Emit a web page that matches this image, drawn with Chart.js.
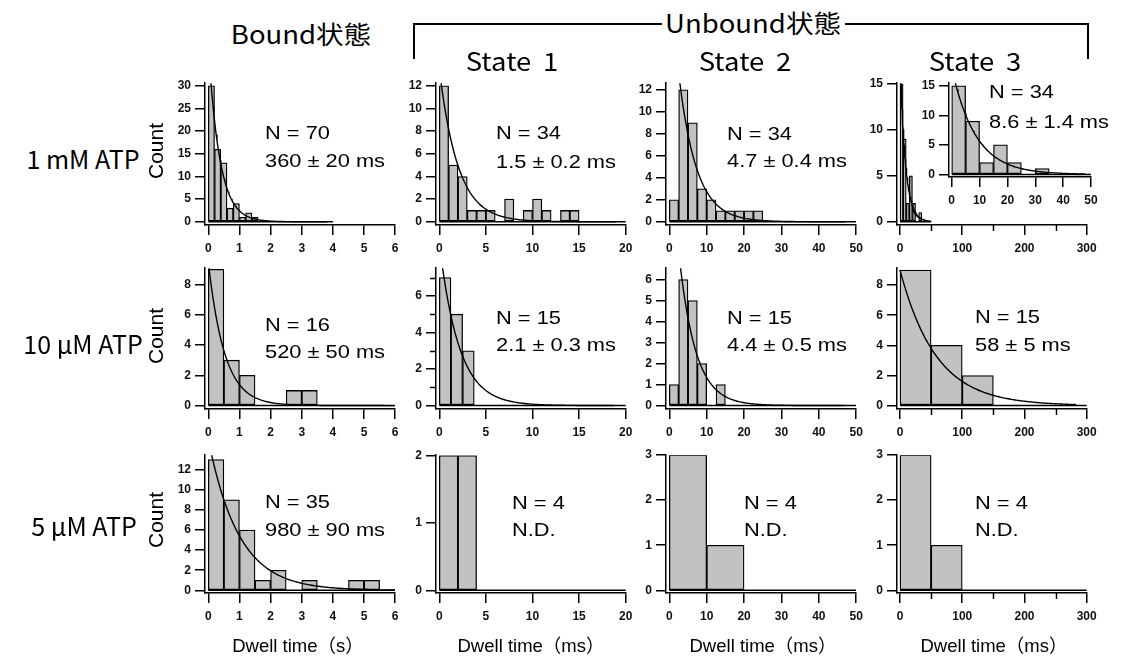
<!DOCTYPE html>
<html>
<head>
<meta charset="utf-8">
<script src="https://cdn.jsdelivr.net/npm/chart.js@4.4.0/dist/chart.umd.min.js"></script>
<style>
    body { margin: 0; background: #fff; width: 1121px; height: 662px; position: relative; overflow: hidden; }
    canvas { position: absolute; }
    .txt { position: absolute; white-space: nowrap; color: #000; line-height: 1; }
    .ann { font-family: 'Liberation Sans', Arial, sans-serif; font-size: 18.5px; transform: scaleX(1.18); transform-origin: left top; }
    .head { font-family: 'Noto Sans CJK JP', 'Noto Sans', sans-serif; transform: translate(-50%, -50%); }
    .wide { transform: translate(-50%, -50%) scaleX(1.1); }
    .axt { font-family: 'Liberation Sans', Arial, 'Noto Sans CJK JP', sans-serif; font-size: 18.5px; transform: translate(-50%, -50%); }
    .cnt { font-family: 'Liberation Sans', Arial, sans-serif; font-size: 21px; transform: translate(-50%, -50%) rotate(-90deg); }
    .ln { position: absolute; background: #000; }
</style>
</head>
<body>
<script>
// ---- histogram counts (rows: 1 mM, 10 uM, 5 uM ATP; columns: Bound, State 1, State 2, State 3) ----
const bound1mMCounts   = [30, 16, 13, 3, 4, 1, 2, 1, 0, 0, 0, 0, 0, 0, 0, 0, 0, 0, 0, 0];
const state1_1mMCounts = [12, 5, 4, 1, 1, 1, 0, 2, 0, 1, 2, 1, 0, 1, 1, 0, 0, 0, 0, 0];
const state2_1mMCounts = [2, 12, 9, 3, 2, 1, 1, 1, 1, 1, 0, 0, 0, 0, 0, 0, 0, 0, 0, 0];
const state3_1mMCounts = [15, 9, 2, 5, 2, 0, 1, 0, 0, 0];

const bound10uMCounts   = [9, 3, 2, 0, 0, 1, 1, 0, 0, 0, 0, 0];
const state1_10uMCounts = [7, 5, 3, 0, 0, 0, 0, 0, 0, 0, 0, 0, 0, 0, 0, 0];
const state2_10uMCounts = [1, 6, 5, 2, 0, 1, 0, 0, 0, 0, 0, 0, 0, 0, 0, 0, 0, 0, 0, 0];
const state3_10uMCounts = [9, 4, 2, 0, 0, 0];

const bound5uMCounts   = [13, 9, 6, 1, 2, 0, 1, 0, 0, 1, 1, 0];
const state1_5uMCounts = [2, 2, 0, 0, 0, 0, 0, 0, 0, 0];
const state2_5uMCounts = [3, 1, 0, 0, 0];
const state3_5uMCounts = [3, 1, 0, 0, 0, 0];

const panelCounts = [
    bound1mMCounts, state1_1mMCounts, state2_1mMCounts, state3_1mMCounts,
    bound10uMCounts, state1_10uMCounts, state2_10uMCounts, state3_10uMCounts,
    bound5uMCounts, state1_5uMCounts, state2_5uMCounts, state3_5uMCounts
];
const binWidths = [0.2, 1, 2.5, 5, 0.5, 1.25, 2.5, 50, 0.5, 2, 10, 50];

// single exponential fit curves as drawn: amplitude, decay constant, drawn range (null = no fit)
const fitAmp   = [38.9, 13.5, 23, 18, 9.5, 8.9, 13, 9, 15, null, null, null];
const fitTau   = [0.36, 2.0, 4.7, 8.6, 0.52, 2.1, 4.4, 58, 0.98, null, null, null];
const fitStart = [0, 0, 2.5, 0, 0, 0, 2.4, 0, 0, null, null, null];
const fitEnd   = [3.8, 19, 47, 50, 6, 18.7, 46.6, 283, 6, null, null, null];

const nLabels   = ['N = 70', 'N = 34', 'N = 34', 'N = 34', 'N = 16', 'N = 15', 'N = 15', 'N = 15', 'N = 35', 'N = 4', 'N = 4', 'N = 4'];
const tauLabels = ['360 ± 20 ms', '1.5 ± 0.2 ms', '4.7 ± 0.4 ms', '8.6 ± 1.4 ms', '520 ± 50 ms', '2.1 ± 0.3 ms', '4.4 ± 0.5 ms', '58 ± 5 ms', '980 ± 90 ms', 'N.D.', 'N.D.', 'N.D.'];

// ---- tick labels ----
const xTicksBound  = [0, 1, 2, 3, 4, 5, 6];
const xTicksState1 = [0, 5, 10, 15, 20];
const xTicksState2 = [0, 10, 20, 30, 40, 50];
const xTicksState3 = [0, 100, 200, 300];
const xMinorState3 = [50, 150, 250];
const yTicksList = [
    [0, 5, 10, 15, 20, 25, 30], [0, 2, 4, 6, 8, 10, 12], [0, 2, 4, 6, 8, 10, 12], [0, 5, 10, 15],
    [0, 2, 4, 6, 8], [0, 2, 4, 6], [0, 1, 2, 3, 4, 5, 6], [0, 2, 4, 6, 8],
    [0, 2, 4, 6, 8, 10, 12], [0, 1, 2], [0, 1, 2, 3], [0, 1, 2, 3]
];
const yMinorList = [[], [], [], [], [], [1, 3, 5, 7], [], [], [], [], [], []];
const insetXTicks = [0, 10, 20, 30, 40, 50];
const insetYTicks = [0, 5, 10, 15];

// ---- page geometry (pixels) ----
const OFF = 3, AXW = 40, AXH = 34, PADT = 8, PADR = 16;
const colX = [ // pixel of 0, pixel of last tick, last tick value
    { x0: 208.3, xEndPx: 395.2, xEnd: 6 },
    { x0: 439.3, xEndPx: 625.7, xEnd: 20 },
    { x0: 669.3, xEndPx: 856.2, xEnd: 50 },
    { x0: 900.0, xEndPx: 1086.7, xEnd: 300 }
];
const rowY0 = [221.7, 405.5, 590.3];
const rowTop = [80, 265, 452];
const yTopPx = [82.7, 82.7, 86.7, 80.7, 281.7, 293.3, 276.7, 282.3, 466.7, 452.3, 451.7, 451.7];

const minorTicks = {
    id: 'minorTicks',
    afterDraw(chart, args, opts) {
        const ctx = chart.ctx, xs = chart.scales.x, ys = chart.scales.y;
        ctx.save();
        ctx.strokeStyle = '#000';
        ctx.lineWidth = 1.5;
        (opts.x || []).forEach(v => {
            const px = Math.round(xs.getPixelForValue(v)) + 0.5;
            ctx.beginPath(); ctx.moveTo(px, xs.top); ctx.lineTo(px, xs.top + 6); ctx.stroke();
        });
        (opts.y || []).forEach(v => {
            const py = Math.round(ys.getPixelForValue(v)) + 0.5;
            ctx.beginPath(); ctx.moveTo(ys.right, py); ctx.lineTo(ys.right - 6, py); ctx.stroke();
        });
        ctx.restore();
    }
};

const tickFont = { family: 'Liberation Sans', size: 12, weight: 'bold' };

function makePanel(p) {
    const left = Math.round(p.x0 - OFF), right = Math.round(p.xEndPx);
    const top = Math.round(p.areaTop), bottom = Math.round(p.y0 + OFF);
    const xUnit = (p.xEndPx - p.x0) / p.xEnd;
    const yUnit = (p.y0 - p.yTopPx) / p.yTop;
    const cw = right - left + AXW + PADR, ch = bottom - top + PADT + AXH;

    const cv = document.createElement('canvas');
    cv.width = cw; cv.height = ch;
    cv.style.left = (left - AXW) + 'px';
    cv.style.top = (top - PADT) + 'px';
    cv.style.width = cw + 'px';
    cv.style.height = ch + 'px';
    if (p.z) cv.style.zIndex = p.z;
    document.body.appendChild(cv);

    const datasets = [];
    if (p.tau) {
        const pts = [];
        for (let i = 0; i <= 150; i++) {
            const t = p.fitFrom + (p.fitTo - p.fitFrom) * i / 150;
            pts.push({ x: t, y: p.amp * Math.exp(-t / p.tau) });
        }
        datasets.push({ type: 'line', data: pts, borderColor: '#000', borderWidth: 1.4, pointRadius: 0, fill: false });
    }
    datasets.push({
        type: 'line', data: [{ x: 0, y: 0 }, { x: p.counts.length * p.bw, y: 0 }],
        borderColor: '#000', borderWidth: 1.5, pointRadius: 0, fill: false
    });
    datasets.push({
        type: 'bar',
        data: p.counts.map((c, i) => ({ x: (i + 0.5) * p.bw, y: c })),
        backgroundColor: '#c2c2c2', borderColor: '#000', borderWidth: 1.3,
        borderSkipped: false, barPercentage: 1, categoryPercentage: 1
    });

    new Chart(cv, {
        type: 'bar',
        data: { datasets: datasets },
        plugins: [minorTicks],
        options: {
            responsive: false,
            animation: false,
            events: [],
            layout: { padding: { top: PADT, right: PADR, left: 0, bottom: 0 } },
            plugins: {
                legend: { display: false },
                tooltip: { enabled: false },
                minorTicks: { x: p.xMinor || [], y: p.yMinor || [] }
            },
            scales: {
                x: {
                    type: 'linear', offset: false,
                    min: (left - p.x0) / xUnit, max: (right - p.x0) / xUnit,
                    afterBuildTicks: s => { s.ticks = p.xTicks.map(v => ({ value: v })); },
                    afterFit: s => { s.height = AXH; },
                    border: { display: true, color: '#000', width: 1.5 },
                    grid: { offset: false, drawOnChartArea: false, drawTicks: true, tickLength: 10, color: '#000', lineWidth: 1.5 },
                    ticks: { color: '#111', font: tickFont, padding: 6, maxRotation: 0, autoSkip: false }
                },
                y: {
                    type: 'linear',
                    min: (p.y0 - bottom) / yUnit, max: (p.y0 - top) / yUnit,
                    afterBuildTicks: s => { s.ticks = p.yTicks.map(v => ({ value: v })); },
                    afterFit: s => { s.width = AXW; },
                    border: { display: true, color: '#000', width: 1.5 },
                    grid: { drawOnChartArea: false, drawTicks: true, tickLength: 10, color: '#000', lineWidth: 1.5 },
                    ticks: { color: '#111', font: tickFont, padding: 4, autoSkip: false }
                }
            }
        }
    });
}

for (let k = 0; k < 12; k++) {
    const r = Math.floor(k / 4), c = k % 4;
    makePanel({
        x0: colX[c].x0, xEndPx: colX[c].xEndPx, xEnd: colX[c].xEnd,
        y0: rowY0[r], areaTop: rowTop[r], yTopPx: yTopPx[k], yTop: yTicksList[k][yTicksList[k].length - 1],
        xTicks: [xTicksBound, xTicksState1, xTicksState2, xTicksState3][c],
        xMinor: c === 3 ? xMinorState3 : [],
        yTicks: yTicksList[k], yMinor: yMinorList[k],
        counts: panelCounts[k], bw: binWidths[k],
        amp: fitAmp[k], tau: fitTau[k], fitFrom: fitStart[k], fitTo: fitEnd[k]
    });
}

// inset of the 1 mM / State 3 histogram (0-50 ms)
makePanel({
    x0: 951.7, xEndPx: 1091, xEnd: 50,
    y0: 174.3, areaTop: 80, yTopPx: 82.7, yTop: 15,
    xTicks: insetXTicks, xMinor: [], yTicks: insetYTicks, yMinor: [],
    counts: state3_1mMCounts, bw: binWidths[3],
    amp: fitAmp[3], tau: fitTau[3], fitFrom: 0, fitTo: 48, z: 2
});

// ---- text ----
function addText(cls, text, x, y, size, extra) {
    const d = document.createElement('div');
    d.className = 'txt ' + cls;
    d.textContent = text;
    d.style.left = x + 'px';
    d.style.top = y + 'px';
    if (size) d.style.fontSize = size + 'px';
    if (extra) Object.assign(d.style, extra);
    document.body.appendChild(d);
}

const annLeft = [265, 495.7, 726.7, 989.3, 265, 495.7, 726.7, 975, 265, 511.7, 744, 975];
const annBase1 = [140, 140, 141, 98.3, 331.7, 325, 325, 324, 509, 510, 510, 510];
const annBase2 = [167.3, 168.3, 168, 128.3, 358.3, 351.7, 351.7, 351.7, 536.7, 536.7, 536.7, 536.7];
for (let k = 0; k < 12; k++) {
    addText('ann', nLabels[k], annLeft[k], annBase1[k] - 15.7);
    addText('ann', tauLabels[k], annLeft[k], annBase2[k] - 15.7);
}

['1 mM ATP', '10 μM ATP', '5 μM ATP'].forEach((t, i) => {
    addText('head', t, [83, 83, 84][i], [158, 343, 525][i], 25);
});
[150.5, 336, 520].forEach(y => addText('cnt', 'Count', 154.5, y));
addText('axt', 'Dwell time（s）', 298, 646);
addText('axt', 'Dwell time（ms）', 531, 646);
addText('axt', 'Dwell time（ms）', 763, 646);
addText('axt', 'Dwell time（ms）', 994, 646);

addText('head wide', 'Bound状態', 301, 33, 25);
addText('head wide', 'Unbound状態', 753, 22, 25);
const stateStyle = { wordSpacing: '5px' };
addText('head wide', 'State 1', 512, 60, 25, stateStyle);
addText('head wide', 'State 2', 745, 60, 25, stateStyle);
addText('head wide', 'State 3', 975, 60, 25, stateStyle);

// bracket over the unbound columns
function addLine(x, y, w, h) {
    const d = document.createElement('div');
    d.className = 'ln';
    Object.assign(d.style, { left: x + 'px', top: y + 'px', width: w + 'px', height: h + 'px' });
    document.body.appendChild(d);
}
addLine(413, 23, 249, 2);
addLine(845, 23, 244, 2);
addLine(413, 23, 2, 36);
addLine(1087, 23, 2, 36);
</script>
</body>
</html>
